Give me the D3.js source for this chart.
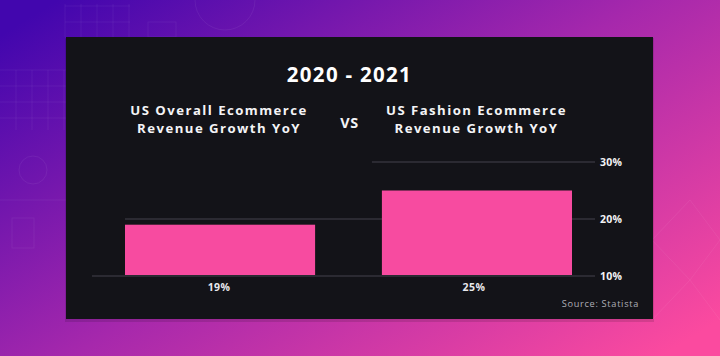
<!DOCTYPE html>
<html><head><meta charset="utf-8">
<script src="https://cdn.jsdelivr.net/npm/d3@7/dist/d3.min.js"></script>
<style>html,body{margin:0;padding:0;overflow:hidden;background:#000}svg{display:block}</style>
</head><body><svg id="c" width="720" height="356"></svg>
<script>
const title = "2020 - 2021";
const categories = ["US Overall Ecommerce|Revenue Growth YoY", "US Fashion Ecommerce|Revenue Growth YoY"];
const values = [19, 25];
const valueLabels = ["19%", "25%"];
const yTicks = [10, 20, 30];
const tickLabels = ["10%", "20%", "30%"];
const vsLabel = "VS";
const source = "Source: Statista";

const svg = d3.select("#c");
const defs = svg.append("defs");
const g = defs.append("linearGradient").attr("id","bg").attr("x1","0").attr("y1","0.1").attr("x2","1").attr("y2","0.9");
g.append("stop").attr("offset","0").attr("stop-color","#4206ae");
g.append("stop").attr("offset","0.5").attr("stop-color","#a628ac");
g.append("stop").attr("offset","1").attr("stop-color","#fb4a9f");

svg.append("rect").attr("width",720).attr("height",356).attr("fill","url(#bg)");
// faint decorative pattern
const deco = svg.append("g").attr("stroke","#ffffff").attr("stroke-opacity",0.06).attr("fill","none").attr("stroke-width",1);
d3.range(0,5).forEach(i=>{deco.append("line").attr("x1",65+i*16).attr("x2",65+i*16).attr("y1",4).attr("y2",37);});
d3.range(0,3).forEach(i=>{deco.append("line").attr("x1",65).attr("x2",130).attr("y1",6+i*16).attr("y2",6+i*16);});
d3.range(0,4).forEach(i=>{deco.append("line").attr("x1",0).attr("x2",66).attr("y1",70+i*16).attr("y2",70+i*16);});
d3.range(0,4).forEach(i=>{deco.append("line").attr("x1",16+i*16).attr("x2",16+i*16).attr("y1",70).attr("y2",130);});
deco.append("circle").attr("cx",33).attr("cy",170).attr("r",14);
deco.append("rect").attr("x",12).attr("y",218).attr("width",22).attr("height",30);
deco.append("rect").attr("x",148).attr("y",22).attr("width",28).attr("height",15);
deco.append("path").attr("d","M195,0 A30,30 0 0 0 255,0");
deco.append("path").attr("d","M652,240 L690,200 L720,240 L690,280 Z M652,320 L690,280 L720,320");
deco.append("line").attr("x1",0).attr("x2",66).attr("y1",200).attr("y2",200);

const P = {x:66, y:37, w:587, h:282};
svg.append("rect").attr("x",P.x-1).attr("y",P.y+1).attr("width",P.w+2).attr("height",P.h+2).attr("fill","#000").attr("opacity",0.12);
svg.append("rect").attr("x",P.x).attr("y",P.y).attr("width",P.w).attr("height",P.h).attr("fill","#131318");

const font = "'Open Sans', 'DejaVu Sans', sans-serif";
svg.append("text").attr("x",349.5).attr("y",82).attr("text-anchor","middle")
  .attr("font-family",font).attr("font-weight",700).attr("font-size",20.5).attr("fill","#ffffff")
  .attr("letter-spacing",1.3).text(title);

const xb = d3.scaleBand().domain(d3.range(categories.length)).range([125,572]).paddingInner(0.26).paddingOuter(0);
const y = d3.scaleLinear().domain([10,30]).range([276,162]);

// headers (one text element per line)
categories.forEach((c,i)=>{
  const cx = xb(i)+xb.bandwidth()/2 + (i===0?-1:-0.5);
  c.split("|").forEach((l,k)=>{
    svg.append("text").attr("x",cx).attr("y",115+k*18).attr("text-anchor","middle").attr("font-family",font)
      .attr("font-weight",700).attr("font-size",13.2).attr("fill","#f4f4f6").attr("letter-spacing",1.45).text(l);
  });
});
svg.append("text").attr("x",349.5).attr("y",128).attr("text-anchor","middle").attr("font-family",font)
  .attr("font-weight",700).attr("font-size",14.4).attr("fill","#f4f4f6").attr("letter-spacing",0.6).text(vsLabel);

// gridlines with staggered starts
const gridStart = [92, xb(0), xb(1)-10];
const grid = svg.append("g");
yTicks.forEach((t,i)=>{
  grid.append("line").attr("x1",gridStart[i]).attr("x2",595).attr("y1",y(t)).attr("y2",y(t))
    .attr("stroke","#2b2a32").attr("stroke-width",2.2);
});
// axis labels on right
const ax = svg.append("g").attr("transform","translate(595,0)")
  .call(d3.axisRight(y).tickValues(yTicks).tickSize(0).tickPadding(5).tickFormat((d,i)=>tickLabels[i]));
ax.select(".domain").remove();
ax.selectAll("text").attr("font-family",font).attr("font-weight",700).attr("font-size",10.5)
  .attr("fill","#f2f2f4").attr("letter-spacing",0.3);

// bars
svg.append("g").selectAll("rect").data(values).join("rect")
  .attr("x",(d,i)=>xb(i)).attr("width",xb.bandwidth())
  .attr("y",d=>y(d)).attr("height",d=>y(10)-y(d)-1).attr("fill","#f74ba0");

// value labels
svg.append("g").selectAll("text").data(valueLabels).join("text")
  .attr("x",(d,i)=>xb(i)+xb.bandwidth()/2-(i===0?1:3)).attr("y",291).attr("text-anchor","middle")
  .attr("font-family",font).attr("font-weight",700).attr("font-size",10.5).attr("fill","#e8e8ec")
  .attr("letter-spacing",0.4).text(d=>d);

svg.append("text").attr("x",639).attr("y",307).attr("text-anchor","end").attr("font-family",font)
  .attr("font-size",9.2).attr("fill","#aeaeb6").attr("letter-spacing",0.7).text(source);
</script></body></html>
